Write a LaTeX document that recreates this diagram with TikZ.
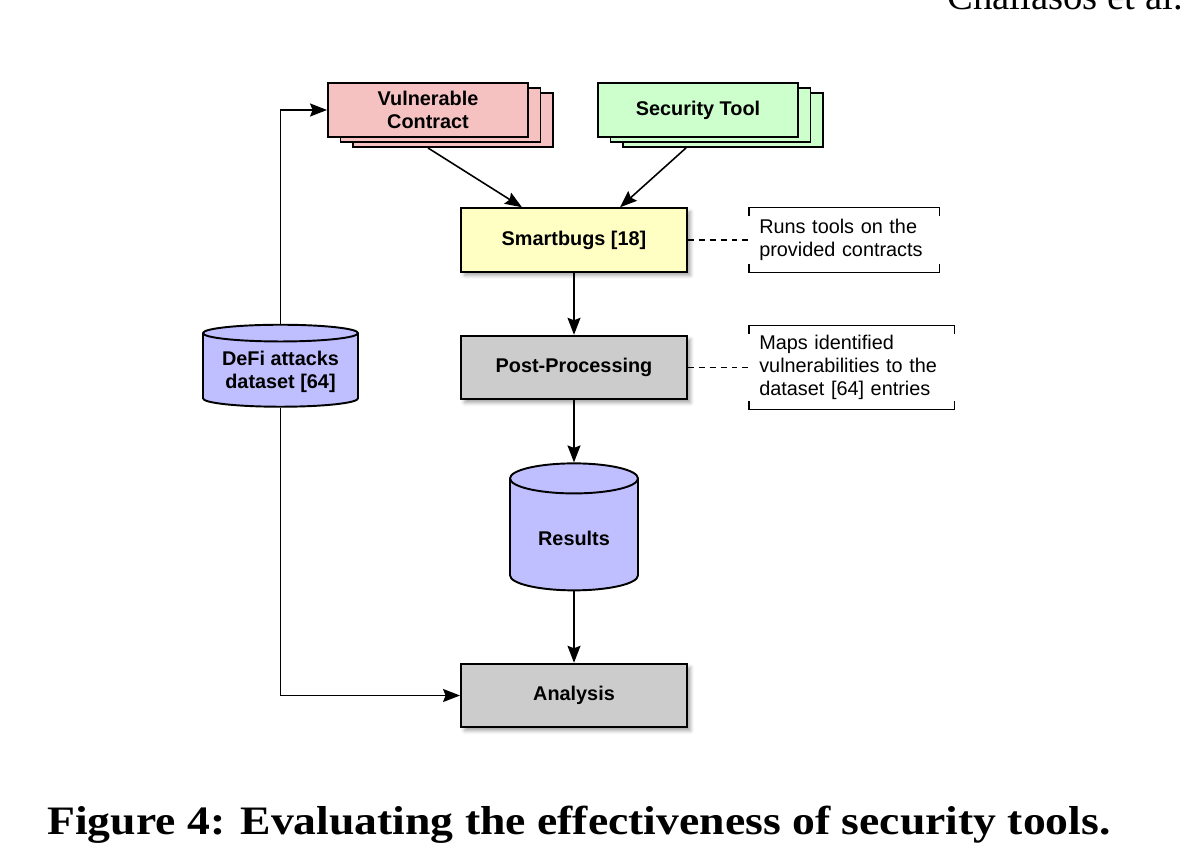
\documentclass[tikz,border=0pt]{standalone}
\usepackage{fontspec}
\setmainfont{Liberation Serif}
\setsansfont{Liberation Sans}
\usepackage{xcolor}
\usepackage{graphicx}
\usetikzlibrary{positioning, arrows.meta, shapes.geometric, shadows, shadows.blur}
\definecolor{evPink}{HTML}{F5C1C1}
\definecolor{evGreen}{HTML}{CCFFCC}
\definecolor{evYellow}{HTML}{FFFFC4}
\definecolor{evGray}{HTML}{CCCCCC}
\definecolor{evLilac}{HTML}{BFBFFF}
\newcommand{\bx}{\sffamily\bfseries\fontsize{11.3}{13}\selectfont}
\newcommand{\nt}{\sffamily\mdseries\fontsize{11.3}{13}\selectfont}

\begin{document}
\begin{tikzpicture}[x=0.02cm, y=-0.02cm, font=\bx,
  stack/.style={draw=black, fill=#1, line width=1.1pt, minimum width=4cm, minimum height=1.08cm, align=center,
    general shadow={shadow xshift=0.5cm, shadow yshift=-0.2cm, fill=#1, draw=black, line width=1.1pt},
    general shadow={shadow xshift=0.25cm, shadow yshift=-0.1cm, fill=#1, draw=black, line width=1.1pt}},
  proc/.style={draw=black, fill=#1, line width=1.1pt, minimum width=4.52cm, minimum height=1.27cm, align=center,
    blur shadow={shadow xshift=2pt, shadow yshift=-2pt, shadow blur radius=2pt, shadow opacity=35}},
  store/.style={cylinder, shape border rotate=90, draw=black, fill=evLilac, line width=1.1pt, align=center},
  note/.style={font=\nt, align=left, text width=#1, inner xsep=0.2cm},
  arr/.style={-{Stealth[length=0.34cm, width=0.26cm, inset=0.05cm]}, line width=0.9pt},
  tie/.style={dashed, dash pattern=on 3.4pt off 2.8pt, line width=0.8pt},
  brk/.style={line width=0.8pt}]
\clip (0,0) rectangle (1200,854);
\node[anchor=base east, inner sep=0, font=\rmfamily\mdseries\fontsize{22}{26}\selectfont] (head) at (1183,10) {Chaliasos et al.};
\node[stack=evPink] (vc) at (428,110) {Vulnerable\\Contract};
\node[stack=evGreen] (st) at (698,110) {Security Tool};
\node[proc=evYellow] (sb) at (574,240) {Smartbugs [18]};
\node[proc=evGray] (pp) at (574,367.5) {Post-Processing};
\node[store, minimum width=2.56cm, minimum height=2.54cm, aspect=0.36] (res) at (574,538) {Results};
\node[proc=evGray] (ana) at (574,695.5) {Analysis};
\node[store, minimum width=3.1cm, minimum height=1.64cm, aspect=0.13] (defi) at (280.5,372) {DeFi attacks\\dataset [64]};
\node[note=3.4cm, minimum height=1.28cm, right=1.22cm of sb] (n1) {Runs tools on the\\provided contracts};
\node[note=3.7cm, minimum height=1.66cm, right=1.22cm of pp] (n2) {Maps identified\\vulnerabilities to the\\dataset [64] entries};
\foreach \n in {n1,n2}{
  \draw[brk] ([yshift=-0.16cm]\n.north west) -- (\n.north west) -- (\n.north east) -- ([yshift=-0.16cm]\n.north east);
  \draw[brk] ([yshift=0.16cm]\n.south west) -- (\n.south west) -- (\n.south east) -- ([yshift=0.16cm]\n.south east);
}
\draw[tie] (sb.east) -- (n1.west);
\draw[tie] (pp.east) -- (n2.west);
\draw[arr] ([yshift=-0.2cm]vc.south) -- ([xshift=-1.04cm]sb.north);
\draw[arr] ([xshift=-0.24cm,yshift=-0.2cm]st.south) -- ([xshift=0.92cm]sb.north);
\draw[arr] (sb) -- (pp);
\draw[arr] (pp) -- (res);
\draw[arr] (res) -- (ana);
\draw[arr] (defi.north) |- (vc.west);
\draw[arr] (defi.south) |- (ana.west);
\node[anchor=base west, inner sep=0, font=\rmfamily\bfseries\fontsize{23}{27}\selectfont] (cap) at (47,834) {\scalebox{1.13}[1]{Figure 4: Evaluating the effectiveness of security tools.}};
\end{tikzpicture}
\end{document}
